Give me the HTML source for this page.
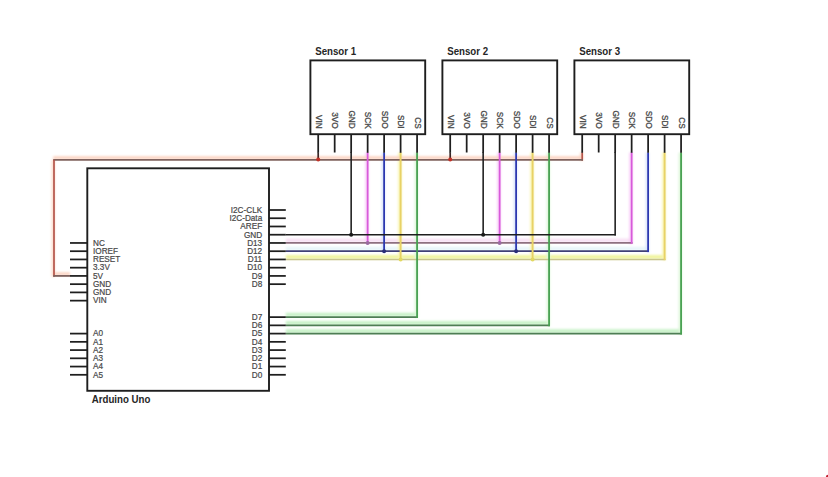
<!DOCTYPE html>
<html><head><meta charset="utf-8"><style>
html,body{margin:0;padding:0;background:#fff;}
body{width:828px;height:477px;overflow:hidden;font-family:"Liberation Sans", sans-serif;}
svg{display:block;}
</style></head><body>
<svg width="828" height="477" viewBox="0 0 828 477">
<defs><filter id="hb" x="-20%" y="-20%" width="140%" height="140%"><feGaussianBlur stdDeviation="0.9"/></filter></defs>
<rect width="828" height="477" fill="#fff"/>
<g filter="url(#hb)">
<rect x="285.80" y="238.56" width="346.74" height="3.80" fill="#f8e0f4"/>
<rect x="365.24" y="152.50" width="3.40" height="90.46" fill="#f8ccf8"/>
<rect x="497.24" y="152.50" width="3.40" height="90.46" fill="#f8ccf8"/>
<rect x="629.24" y="152.50" width="3.40" height="91.36" fill="#f8ccf8"/>
<rect x="285.80" y="246.80" width="363.22" height="3.80" fill="#e8f6fa"/>
<rect x="381.72" y="152.50" width="3.40" height="98.70" fill="#d8e2fa"/>
<rect x="513.72" y="152.50" width="3.40" height="98.70" fill="#d8e2fa"/>
<rect x="645.72" y="152.50" width="3.40" height="99.60" fill="#d8e2fa"/>
<rect x="285.80" y="255.04" width="379.75" height="3.80" fill="#f0f49c"/>
<rect x="398.20" y="152.50" width="3.40" height="106.94" fill="#f8f4b0"/>
<rect x="530.20" y="152.50" width="3.40" height="106.94" fill="#f8f4b0"/>
<rect x="662.20" y="152.50" width="3.40" height="107.64" fill="#f8f4b0"/>
<rect x="285.80" y="312.72" width="132.18" height="3.80" fill="#c8f2c8"/>
<rect x="414.68" y="152.50" width="3.40" height="165.42" fill="#dcf6d8"/>
<rect x="285.80" y="320.96" width="264.18" height="3.80" fill="#c8f2c8"/>
<rect x="546.68" y="152.50" width="3.40" height="173.66" fill="#dcf6d8"/>
<rect x="285.80" y="329.20" width="396.18" height="3.80" fill="#c8f2c8"/>
<rect x="678.68" y="152.50" width="3.40" height="181.90" fill="#dcf6d8"/>
<rect x="579.80" y="152.50" width="3.40" height="8.25" fill="#fbdccc"/>
<rect x="53.20" y="156.25" width="529.80" height="3.00" fill="#fcd2c0"/>
<rect x="51.60" y="159.85" width="3.40" height="116.97" fill="#fbdccc"/>
<rect x="53.20" y="272.32" width="16.80" height="3.00" fill="#fcd2c0"/>
</g>
<line x1="582.20" y1="152.50" x2="582.20" y2="160.75" stroke="#b4544a" stroke-width="1.7"/>
<line x1="53.20" y1="159.85" x2="583.00" y2="159.85" stroke="#7e625e" stroke-width="1.8"/>
<line x1="54.00" y1="159.85" x2="54.00" y2="276.82" stroke="#b4544a" stroke-width="1.7"/>
<line x1="53.20" y1="275.92" x2="70.00" y2="275.92" stroke="#7e625e" stroke-width="1.8"/>
<line x1="285.80" y1="242.96" x2="632.54" y2="242.96" stroke="#8e7080" stroke-width="1.8"/>
<line x1="285.80" y1="251.20" x2="649.02" y2="251.20" stroke="#404076" stroke-width="1.8"/>
<line x1="285.80" y1="259.44" x2="665.55" y2="259.44" stroke="#c8c48c" stroke-width="1.4"/>
<line x1="285.80" y1="317.12" x2="417.98" y2="317.12" stroke="#4e7e54" stroke-width="1.7"/>
<line x1="285.80" y1="325.36" x2="549.98" y2="325.36" stroke="#4e7e54" stroke-width="1.7"/>
<line x1="285.80" y1="333.60" x2="681.98" y2="333.60" stroke="#4e7e54" stroke-width="1.7"/>
<line x1="367.64" y1="152.50" x2="367.64" y2="242.96" stroke="#d85ada" stroke-width="1.8"/>
<line x1="499.64" y1="152.50" x2="499.64" y2="242.96" stroke="#d85ada" stroke-width="1.8"/>
<line x1="631.64" y1="152.50" x2="631.64" y2="243.86" stroke="#d85ada" stroke-width="1.8"/>
<line x1="384.12" y1="152.50" x2="384.12" y2="251.20" stroke="#2c38b0" stroke-width="1.8"/>
<line x1="516.12" y1="152.50" x2="516.12" y2="251.20" stroke="#2c38b0" stroke-width="1.8"/>
<line x1="648.12" y1="152.50" x2="648.12" y2="252.10" stroke="#2c38b0" stroke-width="1.8"/>
<line x1="400.60" y1="152.50" x2="400.60" y2="259.44" stroke="#e8d266" stroke-width="1.9"/>
<line x1="532.60" y1="152.50" x2="532.60" y2="259.44" stroke="#e8d266" stroke-width="1.9"/>
<line x1="664.60" y1="152.50" x2="664.60" y2="260.14" stroke="#e8d266" stroke-width="1.9"/>
<line x1="417.08" y1="152.50" x2="417.08" y2="317.92" stroke="#46a050" stroke-width="1.8"/>
<line x1="549.08" y1="152.50" x2="549.08" y2="326.16" stroke="#46a050" stroke-width="1.8"/>
<line x1="681.08" y1="152.50" x2="681.08" y2="334.40" stroke="#46a050" stroke-width="1.8"/>
<line x1="285.80" y1="234.72" x2="615.96" y2="234.72" stroke="#1e1e1e" stroke-width="1.6"/>
<line x1="351.16" y1="152.00" x2="351.16" y2="234.72" stroke="#222222" stroke-width="1.6"/>
<line x1="483.16" y1="152.00" x2="483.16" y2="234.72" stroke="#222222" stroke-width="1.6"/>
<line x1="615.16" y1="152.00" x2="615.16" y2="235.52" stroke="#222222" stroke-width="1.6"/>
<line x1="318.20" y1="152.50" x2="318.20" y2="159.85" stroke="#3a2626" stroke-width="1.7"/>
<line x1="450.20" y1="152.50" x2="450.20" y2="159.85" stroke="#3a2626" stroke-width="1.7"/>
<circle cx="351.16" cy="234.72" r="2.0" fill="#1a1a1a"/>
<circle cx="483.16" cy="234.72" r="2.0" fill="#1a1a1a"/>
<circle cx="367.64" cy="242.96" r="2.0" fill="#9a6aa0"/>
<circle cx="499.64" cy="242.96" r="2.0" fill="#9a6aa0"/>
<circle cx="384.12" cy="251.20" r="2.0" fill="#2a2e78"/>
<circle cx="516.12" cy="251.20" r="2.0" fill="#2a2e78"/>
<circle cx="400.60" cy="259.44" r="2.0" fill="#e2d860"/>
<circle cx="532.60" cy="259.44" r="2.0" fill="#e2d860"/>
<circle cx="318.20" cy="159.55" r="2.0" fill="#c03026"/>
<circle cx="450.20" cy="159.55" r="2.0" fill="#c03026"/>
<rect x="310.40" y="60.40" width="114.80" height="73.80" fill="none" stroke="#1e1e1e" stroke-width="1.9"/>
<text transform="translate(315.20,54.5) scale(1,1.05)" font-family='"Liberation Sans", sans-serif' font-weight="bold" font-size="9.7" fill="#262626">Sensor 1</text>
<line x1="318.20" y1="134.20" x2="318.20" y2="152.80" stroke="#1e1e1e" stroke-width="1.75"/>
<text transform="translate(315.80,128.6) rotate(90)" text-anchor="end" font-family='"Liberation Sans", sans-serif' font-size="8.2" fill="#484848" stroke="#484848" stroke-width="0.3">VIN</text>
<line x1="334.68" y1="134.20" x2="334.68" y2="152.50" stroke="#1e1e1e" stroke-width="1.75"/>
<text transform="translate(332.28,128.6) rotate(90)" text-anchor="end" font-family='"Liberation Sans", sans-serif' font-size="8.2" fill="#484848" stroke="#484848" stroke-width="0.3">3VO</text>
<line x1="351.16" y1="134.20" x2="351.16" y2="152.80" stroke="#1e1e1e" stroke-width="1.75"/>
<text transform="translate(348.76,128.6) rotate(90)" text-anchor="end" font-family='"Liberation Sans", sans-serif' font-size="8.2" fill="#484848" stroke="#484848" stroke-width="0.3">GND</text>
<line x1="367.64" y1="134.20" x2="367.64" y2="152.80" stroke="#1e1e1e" stroke-width="1.75"/>
<text transform="translate(365.24,128.6) rotate(90)" text-anchor="end" font-family='"Liberation Sans", sans-serif' font-size="8.2" fill="#484848" stroke="#484848" stroke-width="0.3">SCK</text>
<line x1="384.12" y1="134.20" x2="384.12" y2="152.80" stroke="#1e1e1e" stroke-width="1.75"/>
<text transform="translate(381.72,128.6) rotate(90)" text-anchor="end" font-family='"Liberation Sans", sans-serif' font-size="8.2" fill="#484848" stroke="#484848" stroke-width="0.3">SDO</text>
<line x1="400.60" y1="134.20" x2="400.60" y2="152.80" stroke="#1e1e1e" stroke-width="1.75"/>
<text transform="translate(398.20,128.6) rotate(90)" text-anchor="end" font-family='"Liberation Sans", sans-serif' font-size="8.2" fill="#484848" stroke="#484848" stroke-width="0.3">SDI</text>
<line x1="417.08" y1="134.20" x2="417.08" y2="152.80" stroke="#1e1e1e" stroke-width="1.75"/>
<text transform="translate(414.68,128.6) rotate(90)" text-anchor="end" font-family='"Liberation Sans", sans-serif' font-size="8.2" fill="#484848" stroke="#484848" stroke-width="0.3">CS</text>
<rect x="442.40" y="60.40" width="114.80" height="73.80" fill="none" stroke="#1e1e1e" stroke-width="1.9"/>
<text transform="translate(447.20,54.5) scale(1,1.05)" font-family='"Liberation Sans", sans-serif' font-weight="bold" font-size="9.7" fill="#262626">Sensor 2</text>
<line x1="450.20" y1="134.20" x2="450.20" y2="152.80" stroke="#1e1e1e" stroke-width="1.75"/>
<text transform="translate(447.80,128.6) rotate(90)" text-anchor="end" font-family='"Liberation Sans", sans-serif' font-size="8.2" fill="#484848" stroke="#484848" stroke-width="0.3">VIN</text>
<line x1="466.68" y1="134.20" x2="466.68" y2="152.50" stroke="#1e1e1e" stroke-width="1.75"/>
<text transform="translate(464.28,128.6) rotate(90)" text-anchor="end" font-family='"Liberation Sans", sans-serif' font-size="8.2" fill="#484848" stroke="#484848" stroke-width="0.3">3VO</text>
<line x1="483.16" y1="134.20" x2="483.16" y2="152.80" stroke="#1e1e1e" stroke-width="1.75"/>
<text transform="translate(480.76,128.6) rotate(90)" text-anchor="end" font-family='"Liberation Sans", sans-serif' font-size="8.2" fill="#484848" stroke="#484848" stroke-width="0.3">GND</text>
<line x1="499.64" y1="134.20" x2="499.64" y2="152.80" stroke="#1e1e1e" stroke-width="1.75"/>
<text transform="translate(497.24,128.6) rotate(90)" text-anchor="end" font-family='"Liberation Sans", sans-serif' font-size="8.2" fill="#484848" stroke="#484848" stroke-width="0.3">SCK</text>
<line x1="516.12" y1="134.20" x2="516.12" y2="152.80" stroke="#1e1e1e" stroke-width="1.75"/>
<text transform="translate(513.72,128.6) rotate(90)" text-anchor="end" font-family='"Liberation Sans", sans-serif' font-size="8.2" fill="#484848" stroke="#484848" stroke-width="0.3">SDO</text>
<line x1="532.60" y1="134.20" x2="532.60" y2="152.80" stroke="#1e1e1e" stroke-width="1.75"/>
<text transform="translate(530.20,128.6) rotate(90)" text-anchor="end" font-family='"Liberation Sans", sans-serif' font-size="8.2" fill="#484848" stroke="#484848" stroke-width="0.3">SDI</text>
<line x1="549.08" y1="134.20" x2="549.08" y2="152.80" stroke="#1e1e1e" stroke-width="1.75"/>
<text transform="translate(546.68,128.6) rotate(90)" text-anchor="end" font-family='"Liberation Sans", sans-serif' font-size="8.2" fill="#484848" stroke="#484848" stroke-width="0.3">CS</text>
<rect x="574.40" y="60.40" width="114.80" height="73.80" fill="none" stroke="#1e1e1e" stroke-width="1.9"/>
<text transform="translate(579.20,54.5) scale(1,1.05)" font-family='"Liberation Sans", sans-serif' font-weight="bold" font-size="9.7" fill="#262626">Sensor 3</text>
<line x1="582.20" y1="134.20" x2="582.20" y2="152.80" stroke="#1e1e1e" stroke-width="1.75"/>
<text transform="translate(579.80,128.6) rotate(90)" text-anchor="end" font-family='"Liberation Sans", sans-serif' font-size="8.2" fill="#484848" stroke="#484848" stroke-width="0.3">VIN</text>
<line x1="598.68" y1="134.20" x2="598.68" y2="152.50" stroke="#1e1e1e" stroke-width="1.75"/>
<text transform="translate(596.28,128.6) rotate(90)" text-anchor="end" font-family='"Liberation Sans", sans-serif' font-size="8.2" fill="#484848" stroke="#484848" stroke-width="0.3">3VO</text>
<line x1="615.16" y1="134.20" x2="615.16" y2="152.80" stroke="#1e1e1e" stroke-width="1.75"/>
<text transform="translate(612.76,128.6) rotate(90)" text-anchor="end" font-family='"Liberation Sans", sans-serif' font-size="8.2" fill="#484848" stroke="#484848" stroke-width="0.3">GND</text>
<line x1="631.64" y1="134.20" x2="631.64" y2="152.80" stroke="#1e1e1e" stroke-width="1.75"/>
<text transform="translate(629.24,128.6) rotate(90)" text-anchor="end" font-family='"Liberation Sans", sans-serif' font-size="8.2" fill="#484848" stroke="#484848" stroke-width="0.3">SCK</text>
<line x1="648.12" y1="134.20" x2="648.12" y2="152.80" stroke="#1e1e1e" stroke-width="1.75"/>
<text transform="translate(645.72,128.6) rotate(90)" text-anchor="end" font-family='"Liberation Sans", sans-serif' font-size="8.2" fill="#484848" stroke="#484848" stroke-width="0.3">SDO</text>
<line x1="664.60" y1="134.20" x2="664.60" y2="152.80" stroke="#1e1e1e" stroke-width="1.75"/>
<text transform="translate(662.20,128.6) rotate(90)" text-anchor="end" font-family='"Liberation Sans", sans-serif' font-size="8.2" fill="#484848" stroke="#484848" stroke-width="0.3">SDI</text>
<line x1="681.08" y1="134.20" x2="681.08" y2="152.80" stroke="#1e1e1e" stroke-width="1.75"/>
<text transform="translate(678.68,128.6) rotate(90)" text-anchor="end" font-family='"Liberation Sans", sans-serif' font-size="8.2" fill="#484848" stroke="#484848" stroke-width="0.3">CS</text>
<rect x="87.30" y="168.30" width="181.70" height="222.50" fill="none" stroke="#1e1e1e" stroke-width="1.9"/>
<line x1="70.00" y1="242.96" x2="87.30" y2="242.96" stroke="#1e1e1e" stroke-width="1.75"/>
<text x="93.0" y="245.76" font-family='"Liberation Sans", sans-serif' font-size="8.2" fill="#484848" stroke="#484848" stroke-width="0.2">NC</text>
<line x1="70.00" y1="251.20" x2="87.30" y2="251.20" stroke="#1e1e1e" stroke-width="1.75"/>
<text x="93.0" y="254.00" font-family='"Liberation Sans", sans-serif' font-size="8.2" fill="#484848" stroke="#484848" stroke-width="0.2">IOREF</text>
<line x1="70.00" y1="259.44" x2="87.30" y2="259.44" stroke="#1e1e1e" stroke-width="1.75"/>
<text x="93.0" y="262.24" font-family='"Liberation Sans", sans-serif' font-size="8.2" fill="#484848" stroke="#484848" stroke-width="0.2">RESET</text>
<line x1="70.00" y1="267.68" x2="87.30" y2="267.68" stroke="#1e1e1e" stroke-width="1.75"/>
<text x="93.0" y="270.48" font-family='"Liberation Sans", sans-serif' font-size="8.2" fill="#484848" stroke="#484848" stroke-width="0.2">3.3V</text>
<line x1="70.00" y1="275.92" x2="87.30" y2="275.92" stroke="#1e1e1e" stroke-width="1.75"/>
<text x="93.0" y="278.72" font-family='"Liberation Sans", sans-serif' font-size="8.2" fill="#484848" stroke="#484848" stroke-width="0.2">5V</text>
<line x1="70.00" y1="284.16" x2="87.30" y2="284.16" stroke="#1e1e1e" stroke-width="1.75"/>
<text x="93.0" y="286.96" font-family='"Liberation Sans", sans-serif' font-size="8.2" fill="#484848" stroke="#484848" stroke-width="0.2">GND</text>
<line x1="70.00" y1="292.40" x2="87.30" y2="292.40" stroke="#1e1e1e" stroke-width="1.75"/>
<text x="93.0" y="295.20" font-family='"Liberation Sans", sans-serif' font-size="8.2" fill="#484848" stroke="#484848" stroke-width="0.2">GND</text>
<line x1="70.00" y1="300.64" x2="87.30" y2="300.64" stroke="#1e1e1e" stroke-width="1.75"/>
<text x="93.0" y="303.44" font-family='"Liberation Sans", sans-serif' font-size="8.2" fill="#484848" stroke="#484848" stroke-width="0.2">VIN</text>
<line x1="70.00" y1="333.60" x2="87.30" y2="333.60" stroke="#1e1e1e" stroke-width="1.75"/>
<text x="93.0" y="336.40" font-family='"Liberation Sans", sans-serif' font-size="8.2" fill="#484848" stroke="#484848" stroke-width="0.2">A0</text>
<line x1="70.00" y1="341.84" x2="87.30" y2="341.84" stroke="#1e1e1e" stroke-width="1.75"/>
<text x="93.0" y="344.64" font-family='"Liberation Sans", sans-serif' font-size="8.2" fill="#484848" stroke="#484848" stroke-width="0.2">A1</text>
<line x1="70.00" y1="350.08" x2="87.30" y2="350.08" stroke="#1e1e1e" stroke-width="1.75"/>
<text x="93.0" y="352.88" font-family='"Liberation Sans", sans-serif' font-size="8.2" fill="#484848" stroke="#484848" stroke-width="0.2">A2</text>
<line x1="70.00" y1="358.32" x2="87.30" y2="358.32" stroke="#1e1e1e" stroke-width="1.75"/>
<text x="93.0" y="361.12" font-family='"Liberation Sans", sans-serif' font-size="8.2" fill="#484848" stroke="#484848" stroke-width="0.2">A3</text>
<line x1="70.00" y1="366.56" x2="87.30" y2="366.56" stroke="#1e1e1e" stroke-width="1.75"/>
<text x="93.0" y="369.36" font-family='"Liberation Sans", sans-serif' font-size="8.2" fill="#484848" stroke="#484848" stroke-width="0.2">A4</text>
<line x1="70.00" y1="374.80" x2="87.30" y2="374.80" stroke="#1e1e1e" stroke-width="1.75"/>
<text x="93.0" y="377.60" font-family='"Liberation Sans", sans-serif' font-size="8.2" fill="#484848" stroke="#484848" stroke-width="0.2">A5</text>
<line x1="269.00" y1="210.00" x2="285.80" y2="210.00" stroke="#1e1e1e" stroke-width="1.75"/>
<text x="262.2" y="212.80" text-anchor="end" font-family='"Liberation Sans", sans-serif' font-size="8.2" fill="#484848" stroke="#484848" stroke-width="0.2">I2C-CLK</text>
<line x1="269.00" y1="218.24" x2="285.80" y2="218.24" stroke="#1e1e1e" stroke-width="1.75"/>
<text x="262.2" y="221.04" text-anchor="end" font-family='"Liberation Sans", sans-serif' font-size="8.2" fill="#484848" stroke="#484848" stroke-width="0.2">I2C-Data</text>
<line x1="269.00" y1="226.48" x2="285.80" y2="226.48" stroke="#1e1e1e" stroke-width="1.75"/>
<text x="262.2" y="229.28" text-anchor="end" font-family='"Liberation Sans", sans-serif' font-size="8.2" fill="#484848" stroke="#484848" stroke-width="0.2">AREF</text>
<line x1="269.00" y1="234.72" x2="285.80" y2="234.72" stroke="#1e1e1e" stroke-width="1.75"/>
<text x="262.2" y="237.52" text-anchor="end" font-family='"Liberation Sans", sans-serif' font-size="8.2" fill="#484848" stroke="#484848" stroke-width="0.2">GND</text>
<line x1="269.00" y1="242.96" x2="285.80" y2="242.96" stroke="#1e1e1e" stroke-width="1.75"/>
<text x="262.2" y="245.76" text-anchor="end" font-family='"Liberation Sans", sans-serif' font-size="8.2" fill="#484848" stroke="#484848" stroke-width="0.2">D13</text>
<line x1="269.00" y1="251.20" x2="285.80" y2="251.20" stroke="#1e1e1e" stroke-width="1.75"/>
<text x="262.2" y="254.00" text-anchor="end" font-family='"Liberation Sans", sans-serif' font-size="8.2" fill="#484848" stroke="#484848" stroke-width="0.2">D12</text>
<line x1="269.00" y1="259.44" x2="285.80" y2="259.44" stroke="#1e1e1e" stroke-width="1.75"/>
<text x="262.2" y="262.24" text-anchor="end" font-family='"Liberation Sans", sans-serif' font-size="8.2" fill="#484848" stroke="#484848" stroke-width="0.2">D11</text>
<line x1="269.00" y1="267.68" x2="285.80" y2="267.68" stroke="#1e1e1e" stroke-width="1.75"/>
<text x="262.2" y="270.48" text-anchor="end" font-family='"Liberation Sans", sans-serif' font-size="8.2" fill="#484848" stroke="#484848" stroke-width="0.2">D10</text>
<line x1="269.00" y1="275.92" x2="285.80" y2="275.92" stroke="#1e1e1e" stroke-width="1.75"/>
<text x="262.2" y="278.72" text-anchor="end" font-family='"Liberation Sans", sans-serif' font-size="8.2" fill="#484848" stroke="#484848" stroke-width="0.2">D9</text>
<line x1="269.00" y1="284.16" x2="285.80" y2="284.16" stroke="#1e1e1e" stroke-width="1.75"/>
<text x="262.2" y="286.96" text-anchor="end" font-family='"Liberation Sans", sans-serif' font-size="8.2" fill="#484848" stroke="#484848" stroke-width="0.2">D8</text>
<line x1="269.00" y1="317.12" x2="285.80" y2="317.12" stroke="#1e1e1e" stroke-width="1.75"/>
<text x="262.2" y="319.92" text-anchor="end" font-family='"Liberation Sans", sans-serif' font-size="8.2" fill="#484848" stroke="#484848" stroke-width="0.2">D7</text>
<line x1="269.00" y1="325.36" x2="285.80" y2="325.36" stroke="#1e1e1e" stroke-width="1.75"/>
<text x="262.2" y="328.16" text-anchor="end" font-family='"Liberation Sans", sans-serif' font-size="8.2" fill="#484848" stroke="#484848" stroke-width="0.2">D6</text>
<line x1="269.00" y1="333.60" x2="285.80" y2="333.60" stroke="#1e1e1e" stroke-width="1.75"/>
<text x="262.2" y="336.40" text-anchor="end" font-family='"Liberation Sans", sans-serif' font-size="8.2" fill="#484848" stroke="#484848" stroke-width="0.2">D5</text>
<line x1="269.00" y1="341.84" x2="285.80" y2="341.84" stroke="#1e1e1e" stroke-width="1.75"/>
<text x="262.2" y="344.64" text-anchor="end" font-family='"Liberation Sans", sans-serif' font-size="8.2" fill="#484848" stroke="#484848" stroke-width="0.2">D4</text>
<line x1="269.00" y1="350.08" x2="285.80" y2="350.08" stroke="#1e1e1e" stroke-width="1.75"/>
<text x="262.2" y="352.88" text-anchor="end" font-family='"Liberation Sans", sans-serif' font-size="8.2" fill="#484848" stroke="#484848" stroke-width="0.2">D3</text>
<line x1="269.00" y1="358.32" x2="285.80" y2="358.32" stroke="#1e1e1e" stroke-width="1.75"/>
<text x="262.2" y="361.12" text-anchor="end" font-family='"Liberation Sans", sans-serif' font-size="8.2" fill="#484848" stroke="#484848" stroke-width="0.2">D2</text>
<line x1="269.00" y1="366.56" x2="285.80" y2="366.56" stroke="#1e1e1e" stroke-width="1.75"/>
<text x="262.2" y="369.36" text-anchor="end" font-family='"Liberation Sans", sans-serif' font-size="8.2" fill="#484848" stroke="#484848" stroke-width="0.2">D1</text>
<line x1="269.00" y1="374.80" x2="285.80" y2="374.80" stroke="#1e1e1e" stroke-width="1.75"/>
<text x="262.2" y="377.60" text-anchor="end" font-family='"Liberation Sans", sans-serif' font-size="8.2" fill="#484848" stroke="#484848" stroke-width="0.2">D0</text>
<text transform="translate(91.7,403.3) scale(1,1.05)" font-family='"Liberation Sans", sans-serif' font-weight="bold" font-size="9.7" fill="#262626">Arduino Uno</text>
<circle cx="828.00" cy="476.80" r="2.1" fill="#c02030"/>
</svg>
</body></html>
